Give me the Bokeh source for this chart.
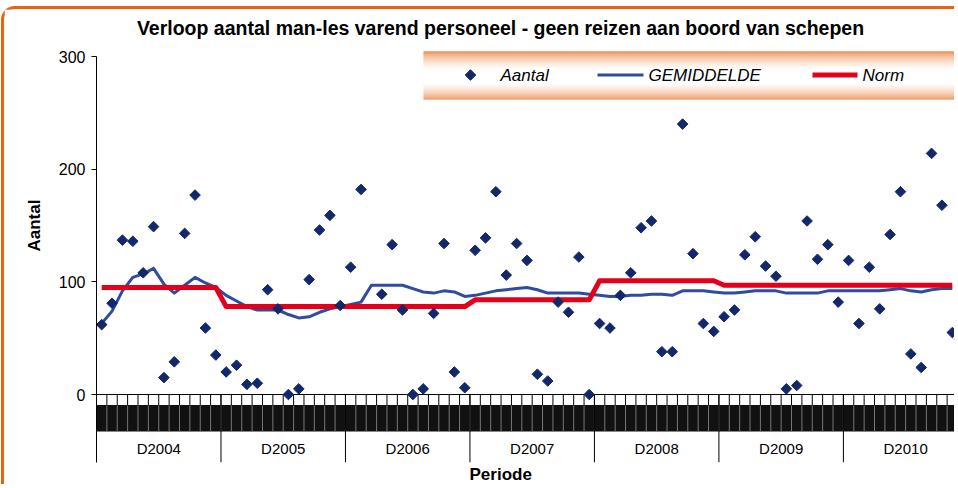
import math
from bokeh.plotting import figure
from bokeh.models import Range1d, FixedTicker, Title
from bokeh.core.properties import value
from bokeh.embed import file_html
from bokeh.resources import INLINE

# ---------------- data ----------------
NaN = float("nan")
years = ["D2004", "D2005", "D2006", "D2007", "D2008", "D2009", "D2010"]
months_per_year = [12, 12, 12, 12, 12, 12, 11]

aantal_2004 = [62, 81, 137, 136, 108, 149, 15, 29, 143, 177, 59, 35]
aantal_2005 = [20, 26, 9, 10, 93, 76, 0, 5, 102, 146, 159, 79]
aantal_2006 = [113, 182, NaN, 89, 133, 75, 0, 5, 72, 134, 20, 6]
aantal_2007 = [128, 139, 180, 106, 134, 119, 18, 12, 82, 73, 122, 0]
aantal_2008 = [63, 59, 88, 108, 148, 154, 38, 38, 240, 125, 63, 56]
aantal_2009 = [69, 75, 124, 140, 114, 105, 5, 8, 154, 120, 133, 82]
aantal_2010 = [119, 63, 113, 76, 142, 180, 36, 24, 214, 168, 55]

gem_2004 = [63, 74, 92, 104, 107, 112, 98, 90, 97, 104, 99, 95]
gem_2005 = [88, 83, 78, 75, 75, 75, 71, 68, 69, 73, 76, 78]
gem_2006 = [80, 82, 97, 97, 97, 97, 94, 91, 90, 92, 91, 87]
gem_2007 = [88, 90, 92, 93, 94, 95, 93, 90, 90, 90, 90, 89]
gem_2008 = [88, 87, 87, 88, 88, 89, 89, 88, 92, 92, 92, 91]
gem_2009 = [90, 90, 91, 92, 92, 92, 90, 90, 90, 90, 92, 92]
gem_2010 = [92, 92, 92, 92, 93, 94, 92, 91, 93, 94, 94]

norm_per_year = [95, 78, 78, 84, 101, 97, 97]

aantal = aantal_2004 + aantal_2005 + aantal_2006 + aantal_2007 + aantal_2008 + aantal_2009 + aantal_2010
gemiddelde = gem_2004 + gem_2005 + gem_2006 + gem_2007 + gem_2008 + gem_2009 + gem_2010
norm = []
for v, m in zip(norm_per_year, months_per_year):
    norm += [v] * m

n = len(aantal)
xs = [i + 0.5 for i in range(n)]

# ---------------- layout (page pixels) ----------------
W, H = 953, 478
OX, OY = 4, 9                # canvas origin on page (offset 1/6 + 3px border)
FL, FR, FT, FB = 96, OX + W, OY, 462
Y0, Y300 = 394, 56
sy = (Y0 - Y300) / 300.0
y_start = -(FB - Y0) / sy
y_end = 300 + (Y300 - FT) / sy
sx = (FR - FL) / n


def X(px):
    return (px - FL) / sx


def Y(py):
    return (Y0 - py) / sy


FONT = "Liberation Sans"
NAVY = "#12286A"
BLUE = "#2F4C9E"
RED = "#E4001B"
ORANGE = "#E8620F"

p = figure(width=W, height=H, output_backend="svg", toolbar_location=None,
           x_axis_location=None,
           x_range=Range1d(0, n), y_range=Range1d(y_start, y_end),
           min_border_left=FL - OX, min_border_right=OX + W - FR,
           min_border_top=0, min_border_bottom=OY + H - FB)
p.outline_line_color = None
p.grid.visible = False
p.background_fill_color = "white"
p.border_fill_color = "white"
p.styles = {"position": "relative", "top": "6px", "left": "1px",
            "border-top": "3px solid " + ORANGE, "border-left": "3px solid " + ORANGE,
            "border-top-left-radius": "14px"}

yax = p.yaxis[0]
yax.ticker = FixedTicker(ticks=[0, 100, 200, 300])
yax.bounds = (y_start, 300)
yax.minor_tick_line_color = None
yax.major_tick_in = 0
yax.major_tick_out = 5
yax.major_label_standoff = 6
yax.major_label_text_font = FONT
yax.major_label_text_font_size = "16px"
yax.major_label_text_color = "black"
yax.axis_line_color = "black"
yax.major_tick_line_color = "black"

# ---------------- titles ----------------
TITLE = "Verloop aantal man-les varend personeel - geen reizen aan boord van schepen"
p.text(x=[X(500)], y=[Y(27)], text=[TITLE], text_font=value(FONT), text_font_size="19.5px",
       text_font_style="bold", text_align="center", text_baseline="middle", text_color="black")
p.add_layout(Title(text="Periode", align="left", offset=373, standoff=0,
                   text_font=FONT, text_font_size="17px", text_font_style="bold",
                   text_color="black"), "below")
p.add_layout(Title(text="Aantal", align="left", offset=211, standoff=24,
                   text_font=FONT, text_font_size="17px", text_font_style="bold",
                   text_color="black"), "left")

# ---------------- category axis decoration ----------------
ks = list(range(n + 1))
p.quad(left=[0], right=[n], top=[Y(404.5)], bottom=[Y(431)], fill_color="#111111", line_color=None)
p.segment(x0=ks, y0=[Y(405)] * len(ks), x1=ks, y1=[Y(431)] * len(ks), line_color="#777777", line_width=1)
p.segment(x0=ks, y0=[0] * len(ks), x1=ks, y1=[Y(404.5)] * len(ks), line_color="black", line_width=1)
bounds = []
c = 0
for m in months_per_year[:-1]:
    c += m
    bounds.append(c)
p.segment(x0=bounds, y0=[0] * len(bounds), x1=bounds, y1=[y_start] * len(bounds), line_color="black", line_width=1)
p.segment(x0=[0], y0=[0], x1=[n], y1=[0], line_color="black", line_width=1)

centers = []
c = 0
for m in months_per_year:
    centers.append(c + 6)
    c += m
p.text(x=centers, y=[Y(448)] * len(centers), text=years, text_font=value(FONT), text_font_size="15px",
       text_align="center", text_baseline="middle", text_color="black")

# ---------------- series ----------------
p.line(xs, gemiddelde, line_color=BLUE, line_width=3, line_join="round")
p.line(xs, norm, line_color=RED, line_width=5, line_join="round")
p.scatter(xs, aantal, marker="square", angle=math.pi / 4, size=7.5, fill_color=NAVY, line_color=NAVY)

# ---------------- legend ----------------
def mix(c1, c2, f):
    a = [int(c1[i:i + 2], 16) for i in (1, 3, 5)]
    b = [int(c2[i:i + 2], 16) for i in (1, 3, 5)]
    return "#%02x%02x%02x" % tuple(int(round(a[k] + (b[k] - a[k]) * f)) for k in range(3))

tops, bots, cols = [], [], []
for py in range(51, 99):
    if py < 68:
        f = ((py - 51) / 17.0) ** 0.6
    elif py > 83:
        f = ((99 - py) / 16.0) ** 0.6
    else:
        f = 1.0
    tops.append(Y(py))
    bots.append(Y(py + 1))
    cols.append(mix(ORANGE, "#ffffff", min(1.0, f)))
p.quad(left=[X(423)] * len(tops), right=[n] * len(tops), top=tops, bottom=bots,
       fill_color=cols, line_color=None)

ly = Y(74.5)
p.scatter([X(470)], [ly], marker="square", angle=math.pi / 4, size=7.5, fill_color=NAVY, line_color=NAVY)
p.line([X(597), X(643)], [ly, ly], line_color=BLUE, line_width=3)
p.line([X(812), X(857)], [ly, ly], line_color=RED, line_width=5)
p.text(x=[X(500), X(648), X(862)], y=[ly] * 3, text=["Aantal", "GEMIDDELDE", "Norm"],
       text_font=value(FONT), text_font_size="17px", text_font_style="italic",
       text_align="left", text_baseline="middle", text_color="black")

open("out.html", "w").write(file_html(p, INLINE))
